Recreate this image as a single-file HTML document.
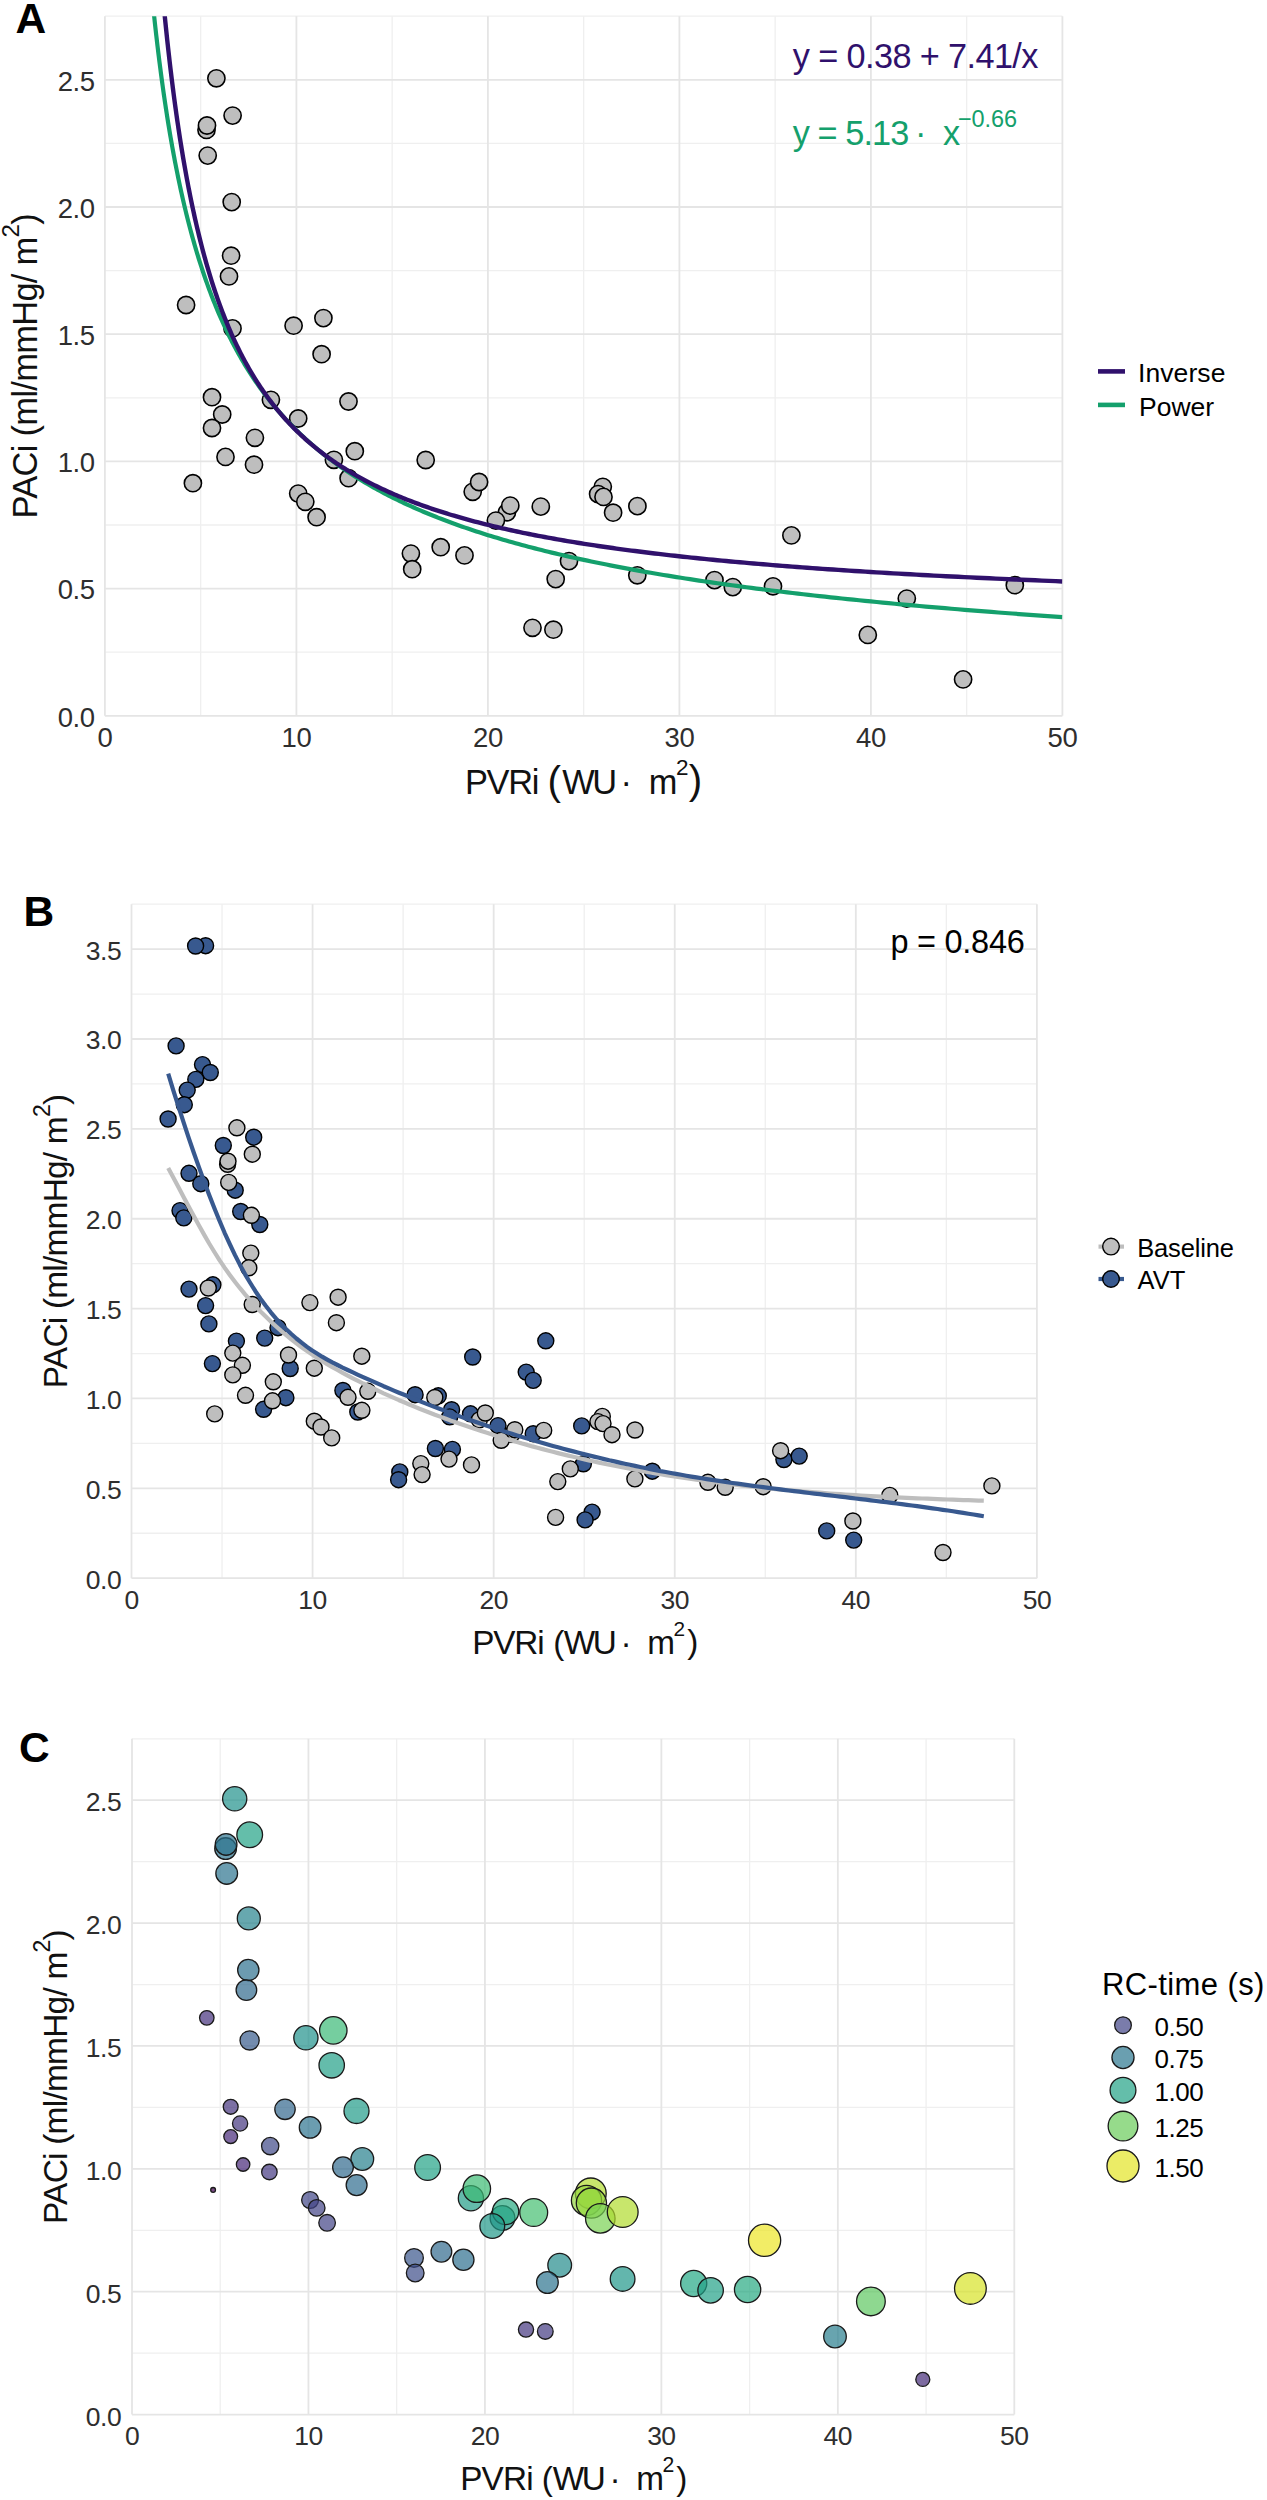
<!DOCTYPE html><html><head><meta charset="utf-8"><style>html,body{margin:0;padding:0;background:#fff;width:1267px;height:2500px;overflow:hidden;position:relative}</style></head><body><svg width="1267" height="2500" viewBox="0 0 1267 2500" style="position:absolute;left:0;top:0;font-family:'Liberation Sans', sans-serif">
<rect x="0" y="0" width="1267" height="2500" fill="#fff"/>
<line x1="200.65" y1="16.30" x2="200.65" y2="715.80" stroke="#EFEFEF" stroke-width="1.3"/>
<line x1="392.15" y1="16.30" x2="392.15" y2="715.80" stroke="#EFEFEF" stroke-width="1.3"/>
<line x1="583.65" y1="16.30" x2="583.65" y2="715.80" stroke="#EFEFEF" stroke-width="1.3"/>
<line x1="775.15" y1="16.30" x2="775.15" y2="715.80" stroke="#EFEFEF" stroke-width="1.3"/>
<line x1="966.65" y1="16.30" x2="966.65" y2="715.80" stroke="#EFEFEF" stroke-width="1.3"/>
<line x1="104.90" y1="652.20" x2="1062.40" y2="652.20" stroke="#EFEFEF" stroke-width="1.3"/>
<line x1="104.90" y1="525.00" x2="1062.40" y2="525.00" stroke="#EFEFEF" stroke-width="1.3"/>
<line x1="104.90" y1="397.80" x2="1062.40" y2="397.80" stroke="#EFEFEF" stroke-width="1.3"/>
<line x1="104.90" y1="270.60" x2="1062.40" y2="270.60" stroke="#EFEFEF" stroke-width="1.3"/>
<line x1="104.90" y1="143.40" x2="1062.40" y2="143.40" stroke="#EFEFEF" stroke-width="1.3"/>
<line x1="104.90" y1="16.20" x2="1062.40" y2="16.20" stroke="#EFEFEF" stroke-width="1.3"/>
<line x1="104.90" y1="16.30" x2="104.90" y2="715.80" stroke="#E5E5E5" stroke-width="1.8"/>
<line x1="296.40" y1="16.30" x2="296.40" y2="715.80" stroke="#E5E5E5" stroke-width="1.8"/>
<line x1="487.90" y1="16.30" x2="487.90" y2="715.80" stroke="#E5E5E5" stroke-width="1.8"/>
<line x1="679.40" y1="16.30" x2="679.40" y2="715.80" stroke="#E5E5E5" stroke-width="1.8"/>
<line x1="870.90" y1="16.30" x2="870.90" y2="715.80" stroke="#E5E5E5" stroke-width="1.8"/>
<line x1="1062.40" y1="16.30" x2="1062.40" y2="715.80" stroke="#E5E5E5" stroke-width="1.8"/>
<line x1="104.90" y1="715.80" x2="1062.40" y2="715.80" stroke="#E5E5E5" stroke-width="1.8"/>
<line x1="104.90" y1="588.60" x2="1062.40" y2="588.60" stroke="#E5E5E5" stroke-width="1.8"/>
<line x1="104.90" y1="461.40" x2="1062.40" y2="461.40" stroke="#E5E5E5" stroke-width="1.8"/>
<line x1="104.90" y1="334.20" x2="1062.40" y2="334.20" stroke="#E5E5E5" stroke-width="1.8"/>
<line x1="104.90" y1="207.00" x2="1062.40" y2="207.00" stroke="#E5E5E5" stroke-width="1.8"/>
<line x1="104.90" y1="79.80" x2="1062.40" y2="79.80" stroke="#E5E5E5" stroke-width="1.8"/>
<text x="15.50" y="32.70" font-size="42.5" font-weight="bold" fill="#000" letter-spacing="0.000">A</text>
<text x="104.90" y="747.00" font-size="27.5" text-anchor="middle" fill="#2E2E2E" font-weight="normal" letter-spacing="-0.500">0</text>
<text x="296.40" y="747.00" font-size="27.5" text-anchor="middle" fill="#2E2E2E" font-weight="normal" letter-spacing="-0.500">10</text>
<text x="487.90" y="747.00" font-size="27.5" text-anchor="middle" fill="#2E2E2E" font-weight="normal" letter-spacing="-0.500">20</text>
<text x="679.40" y="747.00" font-size="27.5" text-anchor="middle" fill="#2E2E2E" font-weight="normal" letter-spacing="-0.500">30</text>
<text x="870.90" y="747.00" font-size="27.5" text-anchor="middle" fill="#2E2E2E" font-weight="normal" letter-spacing="-0.500">40</text>
<text x="1062.40" y="747.00" font-size="27.5" text-anchor="middle" fill="#2E2E2E" font-weight="normal" letter-spacing="-0.500">50</text>
<text x="94.70" y="726.65" font-size="27.5" text-anchor="end" fill="#2E2E2E" font-weight="normal" letter-spacing="-0.400">0.0</text>
<text x="94.70" y="599.45" font-size="27.5" text-anchor="end" fill="#2E2E2E" font-weight="normal" letter-spacing="-0.400">0.5</text>
<text x="94.70" y="472.25" font-size="27.5" text-anchor="end" fill="#2E2E2E" font-weight="normal" letter-spacing="-0.400">1.0</text>
<text x="94.70" y="345.05" font-size="27.5" text-anchor="end" fill="#2E2E2E" font-weight="normal" letter-spacing="-0.400">1.5</text>
<text x="94.70" y="217.85" font-size="27.5" text-anchor="end" fill="#2E2E2E" font-weight="normal" letter-spacing="-0.400">2.0</text>
<text x="94.70" y="90.65" font-size="27.5" text-anchor="end" fill="#2E2E2E" font-weight="normal" letter-spacing="-0.400">2.5</text>
<text x="465.00" y="793.70" font-size="34.4" font-weight="normal" fill="#111" letter-spacing="-1.333">PVRi</text>
<text x="547.60" y="794.70" font-size="40.4" font-weight="normal" fill="#111" letter-spacing="0.000">(</text>
<text x="562.20" y="793.70" font-size="34.4" font-weight="normal" fill="#111" letter-spacing="-2.500">WU</text>
<text x="620.60" y="793.70" font-size="34.4" font-weight="normal" fill="#111" letter-spacing="0.000">·</text>
<text x="648.80" y="793.70" font-size="34.4" font-weight="normal" fill="#111" letter-spacing="0.000">m</text>
<text x="676.00" y="775.00" font-size="22.5" font-weight="normal" fill="#111" letter-spacing="0.000">2</text>
<text x="688.80" y="793.70" font-size="40.4" font-weight="normal" fill="#111" letter-spacing="0.000">)</text>
<text transform="translate(37.20,518.40) rotate(-90)" font-size="34.5" font-weight="normal" fill="#111" letter-spacing="-0.724">PACi (ml/mmHg/ m<tspan dy="-18" font-size="24">2</tspan><tspan dy="18">)</tspan></text>
<circle cx="216.4" cy="78.3" r="8.6" fill="#BEBEBE" stroke="#000" stroke-width="1.6"/>
<circle cx="232.6" cy="115.6" r="8.6" fill="#BEBEBE" stroke="#000" stroke-width="1.6"/>
<circle cx="206.5" cy="129.9" r="8.6" fill="#BEBEBE" stroke="#000" stroke-width="1.6"/>
<circle cx="207.0" cy="125.5" r="8.6" fill="#BEBEBE" stroke="#000" stroke-width="1.6"/>
<circle cx="207.7" cy="155.6" r="8.6" fill="#BEBEBE" stroke="#000" stroke-width="1.6"/>
<circle cx="231.7" cy="202.1" r="8.6" fill="#BEBEBE" stroke="#000" stroke-width="1.6"/>
<circle cx="231.1" cy="255.7" r="8.6" fill="#BEBEBE" stroke="#000" stroke-width="1.6"/>
<circle cx="229.0" cy="276.4" r="8.6" fill="#BEBEBE" stroke="#000" stroke-width="1.6"/>
<circle cx="186.1" cy="305.0" r="8.6" fill="#BEBEBE" stroke="#000" stroke-width="1.6"/>
<circle cx="232.5" cy="328.4" r="8.6" fill="#BEBEBE" stroke="#000" stroke-width="1.6"/>
<circle cx="293.6" cy="325.7" r="8.6" fill="#BEBEBE" stroke="#000" stroke-width="1.6"/>
<circle cx="323.4" cy="318.1" r="8.6" fill="#BEBEBE" stroke="#000" stroke-width="1.6"/>
<circle cx="321.6" cy="354.2" r="8.6" fill="#BEBEBE" stroke="#000" stroke-width="1.6"/>
<circle cx="212.0" cy="397.2" r="8.6" fill="#BEBEBE" stroke="#000" stroke-width="1.6"/>
<circle cx="270.9" cy="399.8" r="8.6" fill="#BEBEBE" stroke="#000" stroke-width="1.6"/>
<circle cx="348.5" cy="401.5" r="8.6" fill="#BEBEBE" stroke="#000" stroke-width="1.6"/>
<circle cx="222.2" cy="414.5" r="8.6" fill="#BEBEBE" stroke="#000" stroke-width="1.6"/>
<circle cx="298.2" cy="418.5" r="8.6" fill="#BEBEBE" stroke="#000" stroke-width="1.6"/>
<circle cx="212.0" cy="428.0" r="8.6" fill="#BEBEBE" stroke="#000" stroke-width="1.6"/>
<circle cx="254.9" cy="437.8" r="8.6" fill="#BEBEBE" stroke="#000" stroke-width="1.6"/>
<circle cx="225.5" cy="456.9" r="8.6" fill="#BEBEBE" stroke="#000" stroke-width="1.6"/>
<circle cx="254.0" cy="464.7" r="8.6" fill="#BEBEBE" stroke="#000" stroke-width="1.6"/>
<circle cx="354.8" cy="451.2" r="8.6" fill="#BEBEBE" stroke="#000" stroke-width="1.6"/>
<circle cx="333.9" cy="459.8" r="8.6" fill="#BEBEBE" stroke="#000" stroke-width="1.6"/>
<circle cx="348.6" cy="478.2" r="8.6" fill="#BEBEBE" stroke="#000" stroke-width="1.6"/>
<circle cx="192.9" cy="483.2" r="8.6" fill="#BEBEBE" stroke="#000" stroke-width="1.6"/>
<circle cx="298.2" cy="493.6" r="8.6" fill="#BEBEBE" stroke="#000" stroke-width="1.6"/>
<circle cx="305.3" cy="501.8" r="8.6" fill="#BEBEBE" stroke="#000" stroke-width="1.6"/>
<circle cx="316.6" cy="517.2" r="8.6" fill="#BEBEBE" stroke="#000" stroke-width="1.6"/>
<circle cx="425.7" cy="460.0" r="8.6" fill="#BEBEBE" stroke="#000" stroke-width="1.6"/>
<circle cx="472.7" cy="491.8" r="8.6" fill="#BEBEBE" stroke="#000" stroke-width="1.6"/>
<circle cx="479.1" cy="482.0" r="8.6" fill="#BEBEBE" stroke="#000" stroke-width="1.6"/>
<circle cx="507.0" cy="512.3" r="8.6" fill="#BEBEBE" stroke="#000" stroke-width="1.6"/>
<circle cx="510.3" cy="505.6" r="8.6" fill="#BEBEBE" stroke="#000" stroke-width="1.6"/>
<circle cx="495.9" cy="520.6" r="8.6" fill="#BEBEBE" stroke="#000" stroke-width="1.6"/>
<circle cx="540.8" cy="506.6" r="8.6" fill="#BEBEBE" stroke="#000" stroke-width="1.6"/>
<circle cx="410.9" cy="553.6" r="8.6" fill="#BEBEBE" stroke="#000" stroke-width="1.6"/>
<circle cx="412.2" cy="569.2" r="8.6" fill="#BEBEBE" stroke="#000" stroke-width="1.6"/>
<circle cx="440.7" cy="547.2" r="8.6" fill="#BEBEBE" stroke="#000" stroke-width="1.6"/>
<circle cx="464.5" cy="555.4" r="8.6" fill="#BEBEBE" stroke="#000" stroke-width="1.6"/>
<circle cx="569.0" cy="561.1" r="8.6" fill="#BEBEBE" stroke="#000" stroke-width="1.6"/>
<circle cx="555.7" cy="579.1" r="8.6" fill="#BEBEBE" stroke="#000" stroke-width="1.6"/>
<circle cx="532.5" cy="627.8" r="8.6" fill="#BEBEBE" stroke="#000" stroke-width="1.6"/>
<circle cx="553.4" cy="629.7" r="8.6" fill="#BEBEBE" stroke="#000" stroke-width="1.6"/>
<circle cx="602.8" cy="486.8" r="8.6" fill="#BEBEBE" stroke="#000" stroke-width="1.6"/>
<circle cx="598.1" cy="494.1" r="8.6" fill="#BEBEBE" stroke="#000" stroke-width="1.6"/>
<circle cx="603.5" cy="496.9" r="8.6" fill="#BEBEBE" stroke="#000" stroke-width="1.6"/>
<circle cx="613.1" cy="512.7" r="8.6" fill="#BEBEBE" stroke="#000" stroke-width="1.6"/>
<circle cx="637.4" cy="506.1" r="8.6" fill="#BEBEBE" stroke="#000" stroke-width="1.6"/>
<circle cx="637.3" cy="575.3" r="8.6" fill="#BEBEBE" stroke="#000" stroke-width="1.6"/>
<circle cx="714.5" cy="580.1" r="8.6" fill="#BEBEBE" stroke="#000" stroke-width="1.6"/>
<circle cx="732.8" cy="587.1" r="8.6" fill="#BEBEBE" stroke="#000" stroke-width="1.6"/>
<circle cx="773.0" cy="586.3" r="8.6" fill="#BEBEBE" stroke="#000" stroke-width="1.6"/>
<circle cx="791.4" cy="535.4" r="8.6" fill="#BEBEBE" stroke="#000" stroke-width="1.6"/>
<circle cx="867.8" cy="634.9" r="8.6" fill="#BEBEBE" stroke="#000" stroke-width="1.6"/>
<circle cx="906.8" cy="598.6" r="8.6" fill="#BEBEBE" stroke="#000" stroke-width="1.6"/>
<circle cx="1014.8" cy="585.2" r="8.6" fill="#BEBEBE" stroke="#000" stroke-width="1.6"/>
<circle cx="963.1" cy="679.4" r="8.6" fill="#BEBEBE" stroke="#000" stroke-width="1.6"/>
<clipPath id="clipA"><rect x="104.9" y="16.3" width="957.5000000000001" height="699.5"/></clipPath>
<g clip-path="url(#clipA)">
<polyline points="148.94,-37.37 149.29,-33.56 149.63,-29.76 149.97,-25.98 150.32,-22.22 150.67,-18.48 151.03,-14.76 151.38,-11.06 151.74,-7.37 152.10,-3.71 152.47,-0.06 152.84,3.57 153.21,7.17 153.58,10.77 153.96,14.34 154.34,17.89 154.72,21.43 155.10,24.95 155.49,28.45 155.88,31.93 156.28,35.40 156.67,38.85 157.07,42.28 157.48,45.69 157.88,49.09 158.29,52.47 158.70,55.83 159.12,59.17 159.54,62.50 159.96,65.81 160.39,69.10 160.82,72.38 161.25,75.64 161.68,78.89 162.12,82.11 162.56,85.32 163.01,88.52 163.46,91.70 163.91,94.86 164.37,98.01 164.83,101.14 165.29,104.25 165.76,107.35 166.23,110.44 166.70,113.50 167.18,116.56 167.66,119.59 168.14,122.61 168.63,125.62 169.13,128.61 169.62,131.59 170.12,134.55 170.63,137.49 171.13,140.42 171.65,143.34 172.16,146.24 172.68,149.13 173.21,152.00 173.73,154.86 174.26,157.70 174.80,160.53 175.34,163.34 175.89,166.14 176.43,168.93 176.99,171.70 177.54,174.45 178.11,177.20 178.67,179.93 179.24,182.64 179.82,185.34 180.39,188.03 180.98,190.71 181.57,193.37 182.16,196.02 182.75,198.65 183.36,201.27 183.96,203.88 184.57,206.47 185.19,209.05 185.81,211.62 186.44,214.18 187.07,216.72 187.70,219.25 188.34,221.76 188.98,224.27 189.63,226.76 190.29,229.24 190.95,231.70 191.61,234.16 192.28,236.60 192.96,239.02 193.64,241.44 194.33,243.84 195.02,246.24 195.71,248.62 196.41,250.98 197.12,253.34 197.83,255.68 198.55,258.01 199.28,260.33 200.01,262.64 200.74,264.94 201.48,267.22 202.23,269.50 202.98,271.76 203.74,274.01 204.50,276.25 205.27,278.48 206.05,280.69 206.83,282.90 207.62,285.09 208.41,287.27 209.21,289.44 210.02,291.61 210.83,293.75 211.65,295.89 212.47,298.02 213.30,300.14 214.14,302.25 214.98,304.34 215.84,306.43 216.69,308.50 217.56,310.56 218.43,312.62 219.30,314.66 220.19,316.69 221.08,318.72 221.98,320.73 222.88,322.73 223.79,324.72 224.71,326.70 225.64,328.68 226.57,330.64 227.51,332.59 228.46,334.53 229.41,336.46 230.38,338.39 231.35,340.30 232.32,342.20 233.31,344.10 234.30,345.98 235.30,347.85 236.31,349.72 237.32,351.57 238.35,353.42 239.38,355.26 240.42,357.08 241.46,358.90 242.52,360.71 243.58,362.51 244.65,364.30 245.73,366.08 246.82,367.85 247.92,369.62 249.02,371.37 250.14,373.12 251.26,374.85 252.39,376.58 253.53,378.30 254.68,380.01 255.84,381.71 257.00,383.40 258.18,385.09 259.36,386.76 260.56,388.43 261.76,390.09 262.97,391.74 264.19,393.38 265.42,395.02 266.66,396.64 267.91,398.26 269.17,399.87 270.44,401.47 271.72,403.06 273.01,404.65 274.31,406.23 275.62,407.79 276.94,409.36 278.27,410.91 279.61,412.45 280.96,413.99 282.32,415.52 283.69,417.04 285.07,418.56 286.46,420.06 287.87,421.56 289.28,423.05 290.70,424.54 292.14,426.01 293.59,427.48 295.05,428.94 296.52,430.39 298.00,431.84 299.49,433.28 300.99,434.71 302.51,436.14 304.03,437.55 305.57,438.96 307.12,440.37 308.69,441.76 310.26,443.15 311.85,444.53 313.45,445.91 315.06,447.27 316.68,448.64 318.32,449.99 319.97,451.34 321.63,452.68 323.30,454.01 324.99,455.34 326.69,456.66 328.41,457.97 330.13,459.28 331.88,460.58 333.63,461.87 335.40,463.16 337.18,464.44 338.97,465.71 340.78,466.98 342.60,468.24 344.44,469.49 346.29,470.74 348.16,471.98 350.04,473.22 351.93,474.45 353.84,475.67 355.76,476.89 357.70,478.10 359.66,479.30 361.62,480.50 363.61,481.69 365.61,482.88 367.62,484.06 369.65,485.24 371.70,486.40 373.76,487.57 375.84,488.72 377.93,489.87 380.04,491.02 382.17,492.16 384.31,493.29 386.47,494.42 388.64,495.54 390.84,496.66 393.05,497.77 395.27,498.87 397.52,499.97 399.78,501.07 402.06,502.15 404.35,503.24 406.67,504.31 409.00,505.39 411.35,506.45 413.72,507.51 416.10,508.57 418.51,509.62 420.93,510.66 423.37,511.70 425.84,512.74 428.32,513.77 430.81,514.79 433.33,515.81 435.87,516.82 438.43,517.83 441.01,518.83 443.60,519.83 446.22,520.83 448.86,521.81 451.52,522.80 454.19,523.77 456.89,524.75 459.61,525.72 462.35,526.68 465.12,527.64 467.90,528.59 470.71,529.54 473.53,530.48 476.38,531.42 479.25,532.36 482.14,533.29 485.06,534.21 488.00,535.13 490.96,536.05 493.94,536.96 496.95,537.86 499.98,538.77 503.03,539.66 506.11,540.56 509.21,541.44 512.33,542.33 515.48,543.21 518.65,544.08 521.85,544.95 525.07,545.82 528.32,546.68 531.59,547.54 534.89,548.39 538.21,549.24 541.56,550.08 544.93,550.92 548.33,551.76 551.76,552.59 555.21,553.41 558.69,554.24 562.20,555.06 565.73,555.87 569.29,556.68 572.88,557.49 576.50,558.29 580.14,559.09 583.82,559.88 587.52,560.67 591.25,561.46 595.00,562.24 598.79,563.02 602.61,563.79 606.45,564.56 610.33,565.33 614.24,566.09 618.17,566.85 622.14,567.61 626.13,568.36 630.16,569.10 634.22,569.85 638.31,570.59 642.43,571.32 646.59,572.06 650.77,572.78 654.99,573.51 659.24,574.23 663.53,574.95 667.84,575.66 672.19,576.37 676.58,577.08 680.99,577.78 685.45,578.48 689.93,579.18 694.45,579.87 699.01,580.56 703.60,581.24 708.23,581.92 712.89,582.60 717.59,583.28 722.32,583.95 727.09,584.62 731.90,585.28 736.75,585.94 741.63,586.60 746.55,587.26 751.51,587.91 756.50,588.56 761.54,589.20 766.61,589.84 771.73,590.48 776.88,591.12 782.07,591.75 787.30,592.38 792.58,593.00 797.89,593.62 803.25,594.24 808.64,594.86 814.08,595.47 819.56,596.08 825.08,596.69 830.65,597.29 836.26,597.89 841.91,598.49 847.60,599.08 853.34,599.68 859.13,600.26 864.96,600.85 870.83,601.43 876.75,602.01 882.71,602.59 888.72,603.16 894.78,603.73 900.88,604.30 907.03,604.87 913.23,605.43 919.48,605.99 925.77,606.54 932.12,607.10 938.51,607.65 944.95,608.20 951.44,608.74 957.98,609.28 964.58,609.82 971.22,610.36 977.91,610.90 984.66,611.43 991.46,611.96 998.31,612.48 1005.21,613.01 1012.17,613.53 1019.18,614.05 1026.25,614.56 1033.37,615.07 1040.54,615.58 1047.77,616.09 1055.06,616.60 1062.40,617.10" fill="none" stroke="#14A06C" stroke-width="4.2"/>
<polyline points="158.52,-54.12 158.91,-49.29 159.30,-44.49 159.69,-39.73 160.09,-34.99 160.49,-30.30 160.89,-25.63 161.29,-21.01 161.70,-16.41 162.11,-11.85 162.53,-7.32 162.94,-2.82 163.36,1.65 163.79,6.08 164.21,10.48 164.64,14.85 165.07,19.19 165.51,23.50 165.95,27.78 166.39,32.02 166.83,36.24 167.28,40.42 167.73,44.58 168.19,48.70 168.64,52.80 169.10,56.87 169.57,60.90 170.04,64.91 170.51,68.89 170.98,72.84 171.46,76.76 171.94,80.66 172.43,84.52 172.91,88.36 173.41,92.17 173.90,95.96 174.40,99.71 174.90,103.44 175.41,107.15 175.92,110.82 176.43,114.47 176.95,118.09 177.47,121.69 178.00,125.26 178.53,128.81 179.06,132.33 179.59,135.83 180.13,139.30 180.68,142.74 181.23,146.16 181.78,149.56 182.33,152.93 182.89,156.28 183.46,159.60 184.03,162.90 184.60,166.18 185.18,169.43 185.76,172.66 186.34,175.86 186.93,179.04 187.52,182.20 188.12,185.34 188.72,188.46 189.33,191.55 189.94,194.62 190.55,197.67 191.17,200.69 191.80,203.70 192.43,206.68 193.06,209.64 193.70,212.58 194.34,215.50 194.99,218.40 195.64,221.28 196.29,224.13 196.95,226.97 197.62,229.78 198.29,232.58 198.97,235.36 199.65,238.11 200.33,240.85 201.02,243.56 201.72,246.26 202.42,248.94 203.12,251.59 203.83,254.23 204.55,256.85 205.27,259.45 205.99,262.04 206.73,264.60 207.46,267.15 208.20,269.67 208.95,272.18 209.70,274.67 210.46,277.15 211.22,279.60 211.99,282.04 212.77,284.46 213.55,286.86 214.33,289.25 215.12,291.62 215.92,293.97 216.72,296.30 217.53,298.62 218.35,300.92 219.17,303.21 220.00,305.48 220.83,307.73 221.67,309.96 222.51,312.18 223.36,314.39 224.22,316.58 225.08,318.75 225.95,320.91 226.83,323.05 227.71,325.17 228.60,327.28 229.49,329.38 230.39,331.46 231.30,333.52 232.21,335.58 233.13,337.61 234.06,339.63 234.99,341.64 235.94,343.63 236.88,345.61 237.84,347.57 238.80,349.52 239.77,351.46 240.74,353.38 241.73,355.29 242.71,357.18 243.71,359.06 244.72,360.93 245.73,362.79 246.74,364.63 247.77,366.45 248.80,368.27 249.84,370.07 250.89,371.86 251.95,373.63 253.01,375.40 254.08,377.15 255.16,378.88 256.25,380.61 257.34,382.32 258.45,384.02 259.56,385.71 260.67,387.38 261.80,389.05 262.94,390.70 264.08,392.34 265.23,393.97 266.39,395.59 267.56,397.19 268.73,398.78 269.92,400.37 271.11,401.94 272.31,403.50 273.53,405.05 274.74,406.58 275.97,408.11 277.21,409.62 278.46,411.13 279.71,412.62 280.98,414.10 282.25,415.58 283.53,417.04 284.82,418.49 286.12,419.93 287.44,421.36 288.76,422.78 290.09,424.19 291.42,425.59 292.77,426.98 294.13,428.36 295.50,429.73 296.88,431.09 298.27,432.44 299.67,433.78 301.07,435.11 302.49,436.43 303.92,437.74 305.36,439.04 306.81,440.34 308.27,441.62 309.74,442.90 311.22,444.16 312.72,445.42 314.22,446.66 315.73,447.90 317.26,449.13 318.79,450.35 320.34,451.57 321.90,452.77 323.47,453.96 325.05,455.15 326.64,456.33 328.24,457.49 329.86,458.66 331.49,459.81 333.12,460.95 334.78,462.09 336.44,463.21 338.11,464.33 339.80,465.45 341.50,466.55 343.21,467.64 344.93,468.73 346.67,469.81 348.42,470.88 350.18,471.95 351.95,473.01 353.74,474.05 355.54,475.10 357.35,476.13 359.18,477.16 361.01,478.18 362.87,479.19 364.73,480.19 366.61,481.19 368.50,482.18 370.41,483.16 372.33,484.14 374.27,485.11 376.21,486.07 378.18,487.03 380.15,487.98 382.14,488.92 384.15,489.85 386.17,490.78 388.20,491.70 390.25,492.62 392.31,493.53 394.39,494.43 396.49,495.32 398.59,496.21 400.72,497.09 402.86,497.97 405.01,498.84 407.18,499.70 409.37,500.56 411.57,501.41 413.79,502.26 416.02,503.10 418.27,503.93 420.54,504.76 422.82,505.58 425.12,506.39 427.44,507.20 429.77,508.01 432.12,508.81 434.49,509.60 436.87,510.38 439.27,511.16 441.69,511.94 444.12,512.71 446.58,513.47 449.05,514.23 451.54,514.99 454.04,515.73 456.57,516.48 459.11,517.21 461.67,517.94 464.25,518.67 466.85,519.39 469.47,520.11 472.11,520.82 474.76,521.52 477.44,522.23 480.13,522.92 482.85,523.61 485.58,524.30 488.33,524.98 491.11,525.66 493.90,526.33 496.71,526.99 499.54,527.65 502.40,528.31 505.27,528.96 508.17,529.61 511.09,530.25 514.02,530.89 516.98,531.52 519.96,532.15 522.96,532.78 525.99,533.40 529.03,534.01 532.10,534.62 535.19,535.23 538.30,535.83 541.44,536.43 544.59,537.03 547.77,537.62 550.98,538.20 554.20,538.78 557.45,539.36 560.72,539.93 564.02,540.50 567.34,541.06 570.69,541.63 574.05,542.18 577.45,542.73 580.86,543.28 584.31,543.83 587.77,544.37 591.27,544.90 594.78,545.44 598.33,545.97 601.89,546.49 605.49,547.01 609.11,547.53 612.76,548.05 616.43,548.56 620.13,549.06 623.85,549.57 627.61,550.06 631.39,550.56 635.19,551.05 639.03,551.54 642.89,552.03 646.78,552.51 650.70,552.99 654.65,553.46 658.63,553.93 662.63,554.40 666.66,554.87 670.73,555.33 674.82,555.79 678.94,556.24 683.09,556.69 687.27,557.14 691.48,557.59 695.73,558.03 700.00,558.47 704.30,558.90 708.64,559.33 713.00,559.76 717.40,560.19 721.83,560.61 726.29,561.03 730.79,561.45 735.31,561.86 739.87,562.28 744.47,562.68 749.09,563.09 753.75,563.49 758.44,563.89 763.17,564.29 767.93,564.68 772.72,565.07 777.55,565.46 782.42,565.85 787.32,566.23 792.25,566.61 797.22,566.99 802.23,567.36 807.27,567.73 812.35,568.10 817.47,568.47 822.62,568.83 827.81,569.19 833.04,569.55 838.31,569.91 843.61,570.26 848.96,570.61 854.34,570.96 859.76,571.30 865.22,571.65 870.71,571.99 876.25,572.33 881.83,572.66 887.45,573.00 893.11,573.33 898.81,573.66 904.55,573.98 910.33,574.31 916.16,574.63 922.03,574.95 927.94,575.27 933.89,575.58 939.88,575.89 945.92,576.20 952.00,576.51 958.13,576.82 964.30,577.12 970.52,577.42 976.78,577.72 983.08,578.02 989.43,578.32 995.83,578.61 1002.27,578.90 1008.76,579.19 1015.30,579.48 1021.88,579.76 1028.52,580.04 1035.19,580.32 1041.92,580.60 1048.70,580.88 1055.53,581.15 1062.40,581.43" fill="none" stroke="#30116C" stroke-width="4.4"/>
</g>
<text x="792.80" y="68.40" font-size="34.3" font-weight="normal" fill="#30116C" letter-spacing="-0.619">y = 0.38 + 7.41/x</text>
<text x="792.80" y="144.60" font-size="34.3" font-weight="normal" fill="#14A06C" letter-spacing="-0.929">y = 5.13</text>
<text x="915.00" y="144.60" font-size="34.3" font-weight="normal" fill="#14A06C" letter-spacing="0.000">·</text>
<text x="943.00" y="144.60" font-size="34.3" font-weight="normal" fill="#14A06C" letter-spacing="0.000">x</text>
<text x="958.00" y="127.00" font-size="23.5" font-weight="normal" fill="#14A06C" letter-spacing="-0.125">−0.66</text>
<line x1="1098" y1="371.4" x2="1125" y2="371.4" stroke="#30116C" stroke-width="4.6"/>
<line x1="1098" y1="404.9" x2="1125" y2="404.9" stroke="#14A06C" stroke-width="4.6"/>
<text x="1138.00" y="382.20" font-size="26.5" font-weight="normal" fill="#000" letter-spacing="0.083">Inverse</text>
<text x="1139.00" y="415.70" font-size="26.5" font-weight="normal" fill="#000" letter-spacing="0.000">Power</text>
<line x1="222.04" y1="904.20" x2="222.04" y2="1578.20" stroke="#EFEFEF" stroke-width="1.3"/>
<line x1="403.12" y1="904.20" x2="403.12" y2="1578.20" stroke="#EFEFEF" stroke-width="1.3"/>
<line x1="584.20" y1="904.20" x2="584.20" y2="1578.20" stroke="#EFEFEF" stroke-width="1.3"/>
<line x1="765.28" y1="904.20" x2="765.28" y2="1578.20" stroke="#EFEFEF" stroke-width="1.3"/>
<line x1="946.36" y1="904.20" x2="946.36" y2="1578.20" stroke="#EFEFEF" stroke-width="1.3"/>
<line x1="131.50" y1="1533.27" x2="1036.90" y2="1533.27" stroke="#EFEFEF" stroke-width="1.3"/>
<line x1="131.50" y1="1443.40" x2="1036.90" y2="1443.40" stroke="#EFEFEF" stroke-width="1.3"/>
<line x1="131.50" y1="1353.54" x2="1036.90" y2="1353.54" stroke="#EFEFEF" stroke-width="1.3"/>
<line x1="131.50" y1="1263.67" x2="1036.90" y2="1263.67" stroke="#EFEFEF" stroke-width="1.3"/>
<line x1="131.50" y1="1173.81" x2="1036.90" y2="1173.81" stroke="#EFEFEF" stroke-width="1.3"/>
<line x1="131.50" y1="1083.94" x2="1036.90" y2="1083.94" stroke="#EFEFEF" stroke-width="1.3"/>
<line x1="131.50" y1="994.08" x2="1036.90" y2="994.08" stroke="#EFEFEF" stroke-width="1.3"/>
<line x1="131.50" y1="904.21" x2="1036.90" y2="904.21" stroke="#EFEFEF" stroke-width="1.3"/>
<line x1="131.50" y1="904.20" x2="131.50" y2="1578.20" stroke="#E5E5E5" stroke-width="1.8"/>
<line x1="312.58" y1="904.20" x2="312.58" y2="1578.20" stroke="#E5E5E5" stroke-width="1.8"/>
<line x1="493.66" y1="904.20" x2="493.66" y2="1578.20" stroke="#E5E5E5" stroke-width="1.8"/>
<line x1="674.74" y1="904.20" x2="674.74" y2="1578.20" stroke="#E5E5E5" stroke-width="1.8"/>
<line x1="855.82" y1="904.20" x2="855.82" y2="1578.20" stroke="#E5E5E5" stroke-width="1.8"/>
<line x1="1036.90" y1="904.20" x2="1036.90" y2="1578.20" stroke="#E5E5E5" stroke-width="1.8"/>
<line x1="131.50" y1="1578.20" x2="1036.90" y2="1578.20" stroke="#E5E5E5" stroke-width="1.8"/>
<line x1="131.50" y1="1488.34" x2="1036.90" y2="1488.34" stroke="#E5E5E5" stroke-width="1.8"/>
<line x1="131.50" y1="1398.47" x2="1036.90" y2="1398.47" stroke="#E5E5E5" stroke-width="1.8"/>
<line x1="131.50" y1="1308.61" x2="1036.90" y2="1308.61" stroke="#E5E5E5" stroke-width="1.8"/>
<line x1="131.50" y1="1218.74" x2="1036.90" y2="1218.74" stroke="#E5E5E5" stroke-width="1.8"/>
<line x1="131.50" y1="1128.88" x2="1036.90" y2="1128.88" stroke="#E5E5E5" stroke-width="1.8"/>
<line x1="131.50" y1="1039.01" x2="1036.90" y2="1039.01" stroke="#E5E5E5" stroke-width="1.8"/>
<line x1="131.50" y1="949.15" x2="1036.90" y2="949.15" stroke="#E5E5E5" stroke-width="1.8"/>
<text x="23.50" y="925.60" font-size="42.5" font-weight="bold" fill="#000" letter-spacing="0.000">B</text>
<text x="131.50" y="1608.70" font-size="26.5" text-anchor="middle" fill="#2E2E2E" font-weight="normal" letter-spacing="-0.500">0</text>
<text x="312.58" y="1608.70" font-size="26.5" text-anchor="middle" fill="#2E2E2E" font-weight="normal" letter-spacing="-0.500">10</text>
<text x="493.66" y="1608.70" font-size="26.5" text-anchor="middle" fill="#2E2E2E" font-weight="normal" letter-spacing="-0.500">20</text>
<text x="674.74" y="1608.70" font-size="26.5" text-anchor="middle" fill="#2E2E2E" font-weight="normal" letter-spacing="-0.500">30</text>
<text x="855.82" y="1608.70" font-size="26.5" text-anchor="middle" fill="#2E2E2E" font-weight="normal" letter-spacing="-0.500">40</text>
<text x="1036.90" y="1608.70" font-size="26.5" text-anchor="middle" fill="#2E2E2E" font-weight="normal" letter-spacing="-0.500">50</text>
<text x="121.40" y="1588.60" font-size="26.5" text-anchor="end" fill="#2E2E2E" font-weight="normal" letter-spacing="-0.400">0.0</text>
<text x="121.40" y="1498.74" font-size="26.5" text-anchor="end" fill="#2E2E2E" font-weight="normal" letter-spacing="-0.400">0.5</text>
<text x="121.40" y="1408.87" font-size="26.5" text-anchor="end" fill="#2E2E2E" font-weight="normal" letter-spacing="-0.400">1.0</text>
<text x="121.40" y="1319.01" font-size="26.5" text-anchor="end" fill="#2E2E2E" font-weight="normal" letter-spacing="-0.400">1.5</text>
<text x="121.40" y="1229.14" font-size="26.5" text-anchor="end" fill="#2E2E2E" font-weight="normal" letter-spacing="-0.400">2.0</text>
<text x="121.40" y="1139.28" font-size="26.5" text-anchor="end" fill="#2E2E2E" font-weight="normal" letter-spacing="-0.400">2.5</text>
<text x="121.40" y="1049.41" font-size="26.5" text-anchor="end" fill="#2E2E2E" font-weight="normal" letter-spacing="-0.400">3.0</text>
<text x="121.40" y="959.55" font-size="26.5" text-anchor="end" fill="#2E2E2E" font-weight="normal" letter-spacing="-0.400">3.5</text>
<text x="472.20" y="1653.70" font-size="33.3" font-weight="normal" fill="#111" letter-spacing="-1.167">PVRi</text>
<text x="553.20" y="1653.70" font-size="33.3" font-weight="normal" fill="#111" letter-spacing="0.000">(</text>
<text x="563.80" y="1653.70" font-size="33.3" font-weight="normal" fill="#111" letter-spacing="-2.500">WU</text>
<text x="620.60" y="1653.70" font-size="33.3" font-weight="normal" fill="#111" letter-spacing="0.000">·</text>
<text x="647.20" y="1653.70" font-size="33.3" font-weight="normal" fill="#111" letter-spacing="0.000">m</text>
<text x="673.40" y="1636.00" font-size="20.8" font-weight="normal" fill="#111" letter-spacing="0.000">2</text>
<text x="687.20" y="1653.20" font-size="33.3" font-weight="normal" fill="#111" letter-spacing="0.000">)</text>
<text transform="translate(66.90,1388.20) rotate(-90)" font-size="33.5" font-weight="normal" fill="#111" letter-spacing="-0.812">PACi (ml/mmHg/ m<tspan dy="-17" font-size="23">2</tspan><tspan dy="17">)</tspan></text>
<circle cx="205.6" cy="945.7" r="8.0" fill="#38598F" stroke="#000" stroke-width="1.4"/>
<circle cx="195.6" cy="946.0" r="8.0" fill="#38598F" stroke="#000" stroke-width="1.4"/>
<circle cx="176.1" cy="1045.9" r="8.0" fill="#38598F" stroke="#000" stroke-width="1.4"/>
<circle cx="202.5" cy="1064.6" r="8.0" fill="#38598F" stroke="#000" stroke-width="1.4"/>
<circle cx="210.3" cy="1072.5" r="8.0" fill="#38598F" stroke="#000" stroke-width="1.4"/>
<circle cx="195.8" cy="1079.4" r="8.0" fill="#38598F" stroke="#000" stroke-width="1.4"/>
<circle cx="187.2" cy="1090.1" r="8.0" fill="#38598F" stroke="#000" stroke-width="1.4"/>
<circle cx="184.3" cy="1104.7" r="8.0" fill="#38598F" stroke="#000" stroke-width="1.4"/>
<circle cx="168.1" cy="1119.0" r="8.0" fill="#38598F" stroke="#000" stroke-width="1.4"/>
<circle cx="223.3" cy="1145.5" r="8.0" fill="#38598F" stroke="#000" stroke-width="1.4"/>
<circle cx="253.7" cy="1137.2" r="8.0" fill="#38598F" stroke="#000" stroke-width="1.4"/>
<circle cx="189.0" cy="1173.3" r="8.0" fill="#38598F" stroke="#000" stroke-width="1.4"/>
<circle cx="200.8" cy="1183.7" r="8.0" fill="#38598F" stroke="#000" stroke-width="1.4"/>
<circle cx="235.2" cy="1190.2" r="8.0" fill="#38598F" stroke="#000" stroke-width="1.4"/>
<circle cx="180.0" cy="1210.6" r="8.0" fill="#38598F" stroke="#000" stroke-width="1.4"/>
<circle cx="183.8" cy="1217.9" r="8.0" fill="#38598F" stroke="#000" stroke-width="1.4"/>
<circle cx="240.7" cy="1211.5" r="8.0" fill="#38598F" stroke="#000" stroke-width="1.4"/>
<circle cx="259.8" cy="1224.5" r="8.0" fill="#38598F" stroke="#000" stroke-width="1.4"/>
<circle cx="189.0" cy="1289.1" r="8.0" fill="#38598F" stroke="#000" stroke-width="1.4"/>
<circle cx="212.9" cy="1284.8" r="8.0" fill="#38598F" stroke="#000" stroke-width="1.4"/>
<circle cx="205.6" cy="1305.6" r="8.0" fill="#38598F" stroke="#000" stroke-width="1.4"/>
<circle cx="208.9" cy="1323.9" r="8.0" fill="#38598F" stroke="#000" stroke-width="1.4"/>
<circle cx="236.4" cy="1341.1" r="8.0" fill="#38598F" stroke="#000" stroke-width="1.4"/>
<circle cx="264.7" cy="1338.1" r="8.0" fill="#38598F" stroke="#000" stroke-width="1.4"/>
<circle cx="278.0" cy="1327.7" r="8.0" fill="#38598F" stroke="#000" stroke-width="1.4"/>
<circle cx="212.4" cy="1363.6" r="8.0" fill="#38598F" stroke="#000" stroke-width="1.4"/>
<circle cx="290.2" cy="1368.5" r="8.0" fill="#38598F" stroke="#000" stroke-width="1.4"/>
<circle cx="285.9" cy="1397.7" r="8.0" fill="#38598F" stroke="#000" stroke-width="1.4"/>
<circle cx="263.6" cy="1409.3" r="8.0" fill="#38598F" stroke="#000" stroke-width="1.4"/>
<circle cx="342.9" cy="1390.5" r="8.0" fill="#38598F" stroke="#000" stroke-width="1.4"/>
<circle cx="357.8" cy="1412.0" r="8.0" fill="#38598F" stroke="#000" stroke-width="1.4"/>
<circle cx="415.1" cy="1394.7" r="8.0" fill="#38598F" stroke="#000" stroke-width="1.4"/>
<circle cx="438.3" cy="1395.8" r="8.0" fill="#38598F" stroke="#000" stroke-width="1.4"/>
<circle cx="451.6" cy="1409.7" r="8.0" fill="#38598F" stroke="#000" stroke-width="1.4"/>
<circle cx="449.7" cy="1416.9" r="8.0" fill="#38598F" stroke="#000" stroke-width="1.4"/>
<circle cx="470.5" cy="1413.8" r="8.0" fill="#38598F" stroke="#000" stroke-width="1.4"/>
<circle cx="498.0" cy="1425.6" r="8.0" fill="#38598F" stroke="#000" stroke-width="1.4"/>
<circle cx="533.2" cy="1433.7" r="8.0" fill="#38598F" stroke="#000" stroke-width="1.4"/>
<circle cx="435.4" cy="1448.5" r="8.0" fill="#38598F" stroke="#000" stroke-width="1.4"/>
<circle cx="452.4" cy="1449.4" r="8.0" fill="#38598F" stroke="#000" stroke-width="1.4"/>
<circle cx="399.8" cy="1471.9" r="8.0" fill="#38598F" stroke="#000" stroke-width="1.4"/>
<circle cx="398.6" cy="1479.7" r="8.0" fill="#38598F" stroke="#000" stroke-width="1.4"/>
<circle cx="472.7" cy="1357.0" r="8.0" fill="#38598F" stroke="#000" stroke-width="1.4"/>
<circle cx="545.8" cy="1340.8" r="8.0" fill="#38598F" stroke="#000" stroke-width="1.4"/>
<circle cx="526.2" cy="1372.1" r="8.0" fill="#38598F" stroke="#000" stroke-width="1.4"/>
<circle cx="533.2" cy="1380.4" r="8.0" fill="#38598F" stroke="#000" stroke-width="1.4"/>
<circle cx="581.7" cy="1425.9" r="8.0" fill="#38598F" stroke="#000" stroke-width="1.4"/>
<circle cx="583.4" cy="1463.8" r="8.0" fill="#38598F" stroke="#000" stroke-width="1.4"/>
<circle cx="652.3" cy="1471.2" r="8.0" fill="#38598F" stroke="#000" stroke-width="1.4"/>
<circle cx="592.1" cy="1512.1" r="8.0" fill="#38598F" stroke="#000" stroke-width="1.4"/>
<circle cx="585.1" cy="1519.9" r="8.0" fill="#38598F" stroke="#000" stroke-width="1.4"/>
<circle cx="783.9" cy="1459.5" r="8.0" fill="#38598F" stroke="#000" stroke-width="1.4"/>
<circle cx="799.2" cy="1456.1" r="8.0" fill="#38598F" stroke="#000" stroke-width="1.4"/>
<circle cx="826.7" cy="1530.9" r="8.0" fill="#38598F" stroke="#000" stroke-width="1.4"/>
<circle cx="853.7" cy="1540.1" r="8.0" fill="#38598F" stroke="#000" stroke-width="1.4"/>
<circle cx="236.9" cy="1127.8" r="8.0" fill="#BEBEBE" stroke="#000" stroke-width="1.4"/>
<circle cx="252.3" cy="1154.2" r="8.0" fill="#BEBEBE" stroke="#000" stroke-width="1.4"/>
<circle cx="227.6" cy="1164.3" r="8.0" fill="#BEBEBE" stroke="#000" stroke-width="1.4"/>
<circle cx="228.0" cy="1161.2" r="8.0" fill="#BEBEBE" stroke="#000" stroke-width="1.4"/>
<circle cx="228.7" cy="1182.4" r="8.0" fill="#BEBEBE" stroke="#000" stroke-width="1.4"/>
<circle cx="251.4" cy="1215.3" r="8.0" fill="#BEBEBE" stroke="#000" stroke-width="1.4"/>
<circle cx="250.8" cy="1253.1" r="8.0" fill="#BEBEBE" stroke="#000" stroke-width="1.4"/>
<circle cx="248.8" cy="1267.8" r="8.0" fill="#BEBEBE" stroke="#000" stroke-width="1.4"/>
<circle cx="208.3" cy="1288.0" r="8.0" fill="#BEBEBE" stroke="#000" stroke-width="1.4"/>
<circle cx="252.2" cy="1304.5" r="8.0" fill="#BEBEBE" stroke="#000" stroke-width="1.4"/>
<circle cx="309.9" cy="1302.6" r="8.0" fill="#BEBEBE" stroke="#000" stroke-width="1.4"/>
<circle cx="338.1" cy="1297.2" r="8.0" fill="#BEBEBE" stroke="#000" stroke-width="1.4"/>
<circle cx="336.4" cy="1322.7" r="8.0" fill="#BEBEBE" stroke="#000" stroke-width="1.4"/>
<circle cx="232.8" cy="1353.1" r="8.0" fill="#BEBEBE" stroke="#000" stroke-width="1.4"/>
<circle cx="288.5" cy="1355.0" r="8.0" fill="#BEBEBE" stroke="#000" stroke-width="1.4"/>
<circle cx="361.8" cy="1356.2" r="8.0" fill="#BEBEBE" stroke="#000" stroke-width="1.4"/>
<circle cx="242.4" cy="1365.3" r="8.0" fill="#BEBEBE" stroke="#000" stroke-width="1.4"/>
<circle cx="314.3" cy="1368.2" r="8.0" fill="#BEBEBE" stroke="#000" stroke-width="1.4"/>
<circle cx="232.8" cy="1374.9" r="8.0" fill="#BEBEBE" stroke="#000" stroke-width="1.4"/>
<circle cx="273.3" cy="1381.8" r="8.0" fill="#BEBEBE" stroke="#000" stroke-width="1.4"/>
<circle cx="245.5" cy="1395.3" r="8.0" fill="#BEBEBE" stroke="#000" stroke-width="1.4"/>
<circle cx="272.5" cy="1400.8" r="8.0" fill="#BEBEBE" stroke="#000" stroke-width="1.4"/>
<circle cx="367.8" cy="1391.3" r="8.0" fill="#BEBEBE" stroke="#000" stroke-width="1.4"/>
<circle cx="348.0" cy="1397.3" r="8.0" fill="#BEBEBE" stroke="#000" stroke-width="1.4"/>
<circle cx="361.9" cy="1410.3" r="8.0" fill="#BEBEBE" stroke="#000" stroke-width="1.4"/>
<circle cx="214.7" cy="1413.9" r="8.0" fill="#BEBEBE" stroke="#000" stroke-width="1.4"/>
<circle cx="314.3" cy="1421.2" r="8.0" fill="#BEBEBE" stroke="#000" stroke-width="1.4"/>
<circle cx="321.0" cy="1427.0" r="8.0" fill="#BEBEBE" stroke="#000" stroke-width="1.4"/>
<circle cx="331.7" cy="1437.9" r="8.0" fill="#BEBEBE" stroke="#000" stroke-width="1.4"/>
<circle cx="434.8" cy="1397.5" r="8.0" fill="#BEBEBE" stroke="#000" stroke-width="1.4"/>
<circle cx="479.3" cy="1419.9" r="8.0" fill="#BEBEBE" stroke="#000" stroke-width="1.4"/>
<circle cx="485.3" cy="1413.0" r="8.0" fill="#BEBEBE" stroke="#000" stroke-width="1.4"/>
<circle cx="511.7" cy="1434.4" r="8.0" fill="#BEBEBE" stroke="#000" stroke-width="1.4"/>
<circle cx="514.8" cy="1429.7" r="8.0" fill="#BEBEBE" stroke="#000" stroke-width="1.4"/>
<circle cx="501.2" cy="1440.3" r="8.0" fill="#BEBEBE" stroke="#000" stroke-width="1.4"/>
<circle cx="543.7" cy="1430.4" r="8.0" fill="#BEBEBE" stroke="#000" stroke-width="1.4"/>
<circle cx="420.8" cy="1463.6" r="8.0" fill="#BEBEBE" stroke="#000" stroke-width="1.4"/>
<circle cx="422.1" cy="1474.6" r="8.0" fill="#BEBEBE" stroke="#000" stroke-width="1.4"/>
<circle cx="449.0" cy="1459.1" r="8.0" fill="#BEBEBE" stroke="#000" stroke-width="1.4"/>
<circle cx="471.5" cy="1464.9" r="8.0" fill="#BEBEBE" stroke="#000" stroke-width="1.4"/>
<circle cx="570.3" cy="1468.9" r="8.0" fill="#BEBEBE" stroke="#000" stroke-width="1.4"/>
<circle cx="557.8" cy="1481.6" r="8.0" fill="#BEBEBE" stroke="#000" stroke-width="1.4"/>
<circle cx="555.6" cy="1517.4" r="8.0" fill="#BEBEBE" stroke="#000" stroke-width="1.4"/>
<circle cx="602.3" cy="1416.4" r="8.0" fill="#BEBEBE" stroke="#000" stroke-width="1.4"/>
<circle cx="597.9" cy="1421.6" r="8.0" fill="#BEBEBE" stroke="#000" stroke-width="1.4"/>
<circle cx="603.0" cy="1423.6" r="8.0" fill="#BEBEBE" stroke="#000" stroke-width="1.4"/>
<circle cx="612.0" cy="1434.7" r="8.0" fill="#BEBEBE" stroke="#000" stroke-width="1.4"/>
<circle cx="635.0" cy="1430.0" r="8.0" fill="#BEBEBE" stroke="#000" stroke-width="1.4"/>
<circle cx="634.9" cy="1478.9" r="8.0" fill="#BEBEBE" stroke="#000" stroke-width="1.4"/>
<circle cx="707.9" cy="1482.3" r="8.0" fill="#BEBEBE" stroke="#000" stroke-width="1.4"/>
<circle cx="725.2" cy="1487.3" r="8.0" fill="#BEBEBE" stroke="#000" stroke-width="1.4"/>
<circle cx="763.2" cy="1486.7" r="8.0" fill="#BEBEBE" stroke="#000" stroke-width="1.4"/>
<circle cx="780.6" cy="1450.7" r="8.0" fill="#BEBEBE" stroke="#000" stroke-width="1.4"/>
<circle cx="852.9" cy="1521.0" r="8.0" fill="#BEBEBE" stroke="#000" stroke-width="1.4"/>
<circle cx="889.8" cy="1495.4" r="8.0" fill="#BEBEBE" stroke="#000" stroke-width="1.4"/>
<circle cx="991.9" cy="1485.9" r="8.0" fill="#BEBEBE" stroke="#000" stroke-width="1.4"/>
<circle cx="943.0" cy="1552.5" r="8.0" fill="#BEBEBE" stroke="#000" stroke-width="1.4"/>
<polyline points="168.2,1167.9 173.3,1177.5 178.5,1187.2 183.6,1196.9 188.7,1206.5 193.8,1216.1 199.0,1225.5 204.1,1234.6 209.2,1243.5 214.4,1252.0 219.5,1260.1 224.6,1267.7 229.8,1274.9 234.9,1281.7 240.0,1288.2 245.1,1294.4 250.3,1300.4 255.4,1306.0 260.5,1311.5 265.7,1316.6 270.8,1321.6 275.9,1326.3 281.1,1330.9 286.2,1335.2 291.3,1339.4 296.4,1343.4 301.6,1347.2 306.7,1350.8 311.8,1354.3 317.0,1357.7 322.1,1360.9 327.2,1364.1 332.3,1367.1 337.5,1370.0 342.6,1372.9 347.7,1375.6 352.9,1378.3 358.0,1380.9 363.1,1383.5 368.3,1386.0 373.4,1388.5 378.5,1390.9 383.6,1393.3 388.8,1395.6 393.9,1397.9 399.0,1400.2 404.2,1402.3 409.3,1404.5 414.4,1406.6 419.5,1408.7 424.7,1410.7 429.8,1412.7 434.9,1414.7 440.1,1416.6 445.2,1418.5 450.3,1420.4 455.5,1422.2 460.6,1424.0 465.7,1425.8 470.8,1427.5 476.0,1429.3 481.1,1430.9 486.2,1432.6 491.4,1434.2 496.5,1435.9 501.6,1437.4 506.8,1439.0 511.9,1440.5 517.0,1442.0 522.1,1443.5 527.3,1444.9 532.4,1446.4 537.5,1447.7 542.7,1449.1 547.8,1450.5 552.9,1451.8 558.0,1453.1 563.2,1454.4 568.3,1455.6 573.4,1456.8 578.6,1458.0 583.7,1459.2 588.8,1460.4 594.0,1461.5 599.1,1462.6 604.2,1463.7 609.3,1464.8 614.5,1465.8 619.6,1466.8 624.7,1467.8 629.9,1468.8 635.0,1469.8 640.1,1470.7 645.2,1471.6 650.4,1472.5 655.5,1473.4 660.6,1474.3 665.8,1475.1 670.9,1475.9 676.0,1476.7 681.2,1477.5 686.3,1478.3 691.4,1479.0 696.5,1479.8 701.7,1480.5 706.8,1481.2 711.9,1481.9 717.1,1482.5 722.2,1483.2 727.3,1483.8 732.5,1484.4 737.6,1485.0 742.7,1485.6 747.8,1486.2 753.0,1486.7 758.1,1487.3 763.2,1487.8 768.4,1488.3 773.5,1488.8 778.6,1489.3 783.7,1489.8 788.9,1490.2 794.0,1490.7 799.1,1491.1 804.3,1491.5 809.4,1491.9 814.5,1492.3 819.7,1492.7 824.8,1493.1 829.9,1493.5 835.0,1493.8 840.2,1494.2 845.3,1494.5 850.4,1494.8 855.6,1495.2 860.7,1495.5 865.8,1495.8 870.9,1496.1 876.1,1496.3 881.2,1496.6 886.3,1496.9 891.5,1497.1 896.6,1497.4 901.7,1497.6 906.9,1497.9 912.0,1498.1 917.1,1498.3 922.2,1498.5 927.4,1498.7 932.5,1498.9 937.6,1499.1 942.8,1499.3 947.9,1499.5 953.0,1499.7 958.2,1499.9 963.3,1500.1 968.4,1500.2 973.5,1500.4 978.7,1500.6 983.8,1500.7" fill="none" stroke="#BEBEBE" stroke-width="4.2" stroke-linejoin="round"/>
<polyline points="168.2,1073.7 173.3,1090.3 178.5,1106.6 183.6,1122.4 188.7,1137.8 193.8,1152.8 199.0,1167.4 204.1,1181.5 209.2,1195.1 214.4,1208.2 219.5,1220.8 224.6,1232.8 229.8,1244.1 234.9,1254.9 240.0,1264.9 245.1,1274.3 250.3,1283.0 255.4,1291.2 260.5,1298.7 265.7,1305.8 270.8,1312.3 275.9,1318.3 281.1,1324.0 286.2,1329.2 291.3,1334.0 296.4,1338.5 301.6,1342.7 306.7,1346.6 311.8,1350.2 317.0,1353.5 322.1,1356.7 327.2,1359.6 332.3,1362.4 337.5,1365.0 342.6,1367.6 347.7,1370.0 352.9,1372.4 358.0,1374.8 363.1,1377.1 368.3,1379.4 373.4,1381.7 378.5,1383.9 383.6,1386.2 388.8,1388.4 393.9,1390.6 399.0,1392.7 404.2,1394.8 409.3,1396.9 414.4,1399.0 419.5,1401.1 424.7,1403.1 429.8,1405.1 434.9,1407.1 440.1,1409.0 445.2,1410.9 450.3,1412.8 455.5,1414.7 460.6,1416.6 465.7,1418.4 470.8,1420.2 476.0,1422.0 481.1,1423.8 486.2,1425.5 491.4,1427.2 496.5,1428.9 501.6,1430.6 506.8,1432.2 511.9,1433.8 517.0,1435.4 522.1,1437.0 527.3,1438.5 532.4,1440.0 537.5,1441.5 542.7,1443.0 547.8,1444.5 552.9,1445.9 558.0,1447.3 563.2,1448.7 568.3,1450.1 573.4,1451.4 578.6,1452.8 583.7,1454.1 588.8,1455.3 594.0,1456.6 599.1,1457.8 604.2,1459.1 609.3,1460.3 614.5,1461.4 619.6,1462.6 624.7,1463.7 629.9,1464.8 635.0,1465.9 640.1,1467.0 645.2,1468.0 650.4,1469.1 655.5,1470.1 660.6,1471.1 665.8,1472.0 670.9,1473.0 676.0,1473.9 681.2,1474.8 686.3,1475.7 691.4,1476.6 696.5,1477.4 701.7,1478.3 706.8,1479.1 711.9,1479.9 717.1,1480.7 722.2,1481.4 727.3,1482.2 732.5,1483.0 737.6,1483.7 742.7,1484.4 747.8,1485.1 753.0,1485.8 758.1,1486.5 763.2,1487.2 768.4,1487.9 773.5,1488.5 778.6,1489.2 783.7,1489.8 788.9,1490.5 794.0,1491.1 799.1,1491.7 804.3,1492.3 809.4,1493.0 814.5,1493.6 819.7,1494.2 824.8,1494.8 829.9,1495.4 835.0,1496.0 840.2,1496.6 845.3,1497.2 850.4,1497.9 855.6,1498.5 860.7,1499.1 865.8,1499.7 870.9,1500.3 876.1,1501.0 881.2,1501.6 886.3,1502.2 891.5,1502.9 896.6,1503.5 901.7,1504.2 906.9,1504.8 912.0,1505.5 917.1,1506.2 922.2,1506.9 927.4,1507.6 932.5,1508.3 937.6,1509.0 942.8,1509.8 947.9,1510.5 953.0,1511.3 958.2,1512.1 963.3,1512.9 968.4,1513.7 973.5,1514.5 978.7,1515.4 983.8,1516.2" fill="none" stroke="#38598F" stroke-width="4.2" stroke-linejoin="round"/>
<text x="890.40" y="953.40" font-size="32.5" font-weight="normal" fill="#000" letter-spacing="-0.250">p = 0.846</text>
<line x1="1098.5" y1="1246.6" x2="1124" y2="1246.6" stroke="#BEBEBE" stroke-width="4.2"/>
<circle cx="1111" cy="1246.6" r="8.3" fill="#BEBEBE" stroke="#000" stroke-width="1.4"/>
<line x1="1098.5" y1="1279" x2="1124" y2="1279" stroke="#38598F" stroke-width="4.2"/>
<circle cx="1111" cy="1279" r="8.3" fill="#38598F" stroke="#000" stroke-width="1.4"/>
<text x="1137.20" y="1256.60" font-size="25.5" font-weight="normal" fill="#000" letter-spacing="-0.143">Baseline</text>
<text x="1137.60" y="1288.60" font-size="25.5" font-weight="normal" fill="#000" letter-spacing="0.000">AVT</text>
<line x1="220.23" y1="1738.80" x2="220.23" y2="2414.60" stroke="#EFEFEF" stroke-width="1.3"/>
<line x1="396.69" y1="1738.80" x2="396.69" y2="2414.60" stroke="#EFEFEF" stroke-width="1.3"/>
<line x1="573.15" y1="1738.80" x2="573.15" y2="2414.60" stroke="#EFEFEF" stroke-width="1.3"/>
<line x1="749.61" y1="1738.80" x2="749.61" y2="2414.60" stroke="#EFEFEF" stroke-width="1.3"/>
<line x1="926.07" y1="1738.80" x2="926.07" y2="2414.60" stroke="#EFEFEF" stroke-width="1.3"/>
<line x1="132.00" y1="2353.16" x2="1014.30" y2="2353.16" stroke="#EFEFEF" stroke-width="1.3"/>
<line x1="132.00" y1="2230.29" x2="1014.30" y2="2230.29" stroke="#EFEFEF" stroke-width="1.3"/>
<line x1="132.00" y1="2107.41" x2="1014.30" y2="2107.41" stroke="#EFEFEF" stroke-width="1.3"/>
<line x1="132.00" y1="1984.54" x2="1014.30" y2="1984.54" stroke="#EFEFEF" stroke-width="1.3"/>
<line x1="132.00" y1="1861.66" x2="1014.30" y2="1861.66" stroke="#EFEFEF" stroke-width="1.3"/>
<line x1="132.00" y1="1738.79" x2="1014.30" y2="1738.79" stroke="#EFEFEF" stroke-width="1.3"/>
<line x1="132.00" y1="1738.80" x2="132.00" y2="2414.60" stroke="#E5E5E5" stroke-width="1.8"/>
<line x1="308.46" y1="1738.80" x2="308.46" y2="2414.60" stroke="#E5E5E5" stroke-width="1.8"/>
<line x1="484.92" y1="1738.80" x2="484.92" y2="2414.60" stroke="#E5E5E5" stroke-width="1.8"/>
<line x1="661.38" y1="1738.80" x2="661.38" y2="2414.60" stroke="#E5E5E5" stroke-width="1.8"/>
<line x1="837.84" y1="1738.80" x2="837.84" y2="2414.60" stroke="#E5E5E5" stroke-width="1.8"/>
<line x1="1014.30" y1="1738.80" x2="1014.30" y2="2414.60" stroke="#E5E5E5" stroke-width="1.8"/>
<line x1="132.00" y1="2414.60" x2="1014.30" y2="2414.60" stroke="#E5E5E5" stroke-width="1.8"/>
<line x1="132.00" y1="2291.72" x2="1014.30" y2="2291.72" stroke="#E5E5E5" stroke-width="1.8"/>
<line x1="132.00" y1="2168.85" x2="1014.30" y2="2168.85" stroke="#E5E5E5" stroke-width="1.8"/>
<line x1="132.00" y1="2045.97" x2="1014.30" y2="2045.97" stroke="#E5E5E5" stroke-width="1.8"/>
<line x1="132.00" y1="1923.10" x2="1014.30" y2="1923.10" stroke="#E5E5E5" stroke-width="1.8"/>
<line x1="132.00" y1="1800.22" x2="1014.30" y2="1800.22" stroke="#E5E5E5" stroke-width="1.8"/>
<text x="19.00" y="1761.80" font-size="42.5" font-weight="bold" fill="#000" letter-spacing="0.000">C</text>
<text x="132.00" y="2445.00" font-size="26.5" text-anchor="middle" fill="#2E2E2E" font-weight="normal" letter-spacing="-0.500">0</text>
<text x="308.46" y="2445.00" font-size="26.5" text-anchor="middle" fill="#2E2E2E" font-weight="normal" letter-spacing="-0.500">10</text>
<text x="484.92" y="2445.00" font-size="26.5" text-anchor="middle" fill="#2E2E2E" font-weight="normal" letter-spacing="-0.500">20</text>
<text x="661.38" y="2445.00" font-size="26.5" text-anchor="middle" fill="#2E2E2E" font-weight="normal" letter-spacing="-0.500">30</text>
<text x="837.84" y="2445.00" font-size="26.5" text-anchor="middle" fill="#2E2E2E" font-weight="normal" letter-spacing="-0.500">40</text>
<text x="1014.30" y="2445.00" font-size="26.5" text-anchor="middle" fill="#2E2E2E" font-weight="normal" letter-spacing="-0.500">50</text>
<text x="121.30" y="2425.50" font-size="26.5" text-anchor="end" fill="#2E2E2E" font-weight="normal" letter-spacing="-0.400">0.0</text>
<text x="121.30" y="2302.62" font-size="26.5" text-anchor="end" fill="#2E2E2E" font-weight="normal" letter-spacing="-0.400">0.5</text>
<text x="121.30" y="2179.75" font-size="26.5" text-anchor="end" fill="#2E2E2E" font-weight="normal" letter-spacing="-0.400">1.0</text>
<text x="121.30" y="2056.88" font-size="26.5" text-anchor="end" fill="#2E2E2E" font-weight="normal" letter-spacing="-0.400">1.5</text>
<text x="121.30" y="1934.00" font-size="26.5" text-anchor="end" fill="#2E2E2E" font-weight="normal" letter-spacing="-0.400">2.0</text>
<text x="121.30" y="1811.12" font-size="26.5" text-anchor="end" fill="#2E2E2E" font-weight="normal" letter-spacing="-0.400">2.5</text>
<text x="460.20" y="2490.00" font-size="33.3" font-weight="normal" fill="#111" letter-spacing="-0.833">PVRi</text>
<text x="541.80" y="2489.50" font-size="33.3" font-weight="normal" fill="#111" letter-spacing="0.000">(</text>
<text x="552.80" y="2490.00" font-size="33.3" font-weight="normal" fill="#111" letter-spacing="-2.500">WU</text>
<text x="609.60" y="2490.00" font-size="33.3" font-weight="normal" fill="#111" letter-spacing="0.000">·</text>
<text x="636.20" y="2490.00" font-size="33.3" font-weight="normal" fill="#111" letter-spacing="0.000">m</text>
<text x="662.40" y="2471.60" font-size="21.2" font-weight="normal" fill="#111" letter-spacing="0.000">2</text>
<text x="676.20" y="2489.50" font-size="33.3" font-weight="normal" fill="#111" letter-spacing="0.000">)</text>
<text transform="translate(66.90,2224.00) rotate(-90)" font-size="33.5" font-weight="normal" fill="#111" letter-spacing="-0.782">PACi (ml/mmHg/ m<tspan dy="-17" font-size="23">2</tspan><tspan dy="17">)</tspan></text>
<circle cx="234.7" cy="1798.8" r="12.10" fill="#21918c" fill-opacity="0.7" stroke="#1A1A1A" stroke-width="1.3"/>
<circle cx="249.7" cy="1834.8" r="12.85" fill="#22a386" fill-opacity="0.7" stroke="#1A1A1A" stroke-width="1.3"/>
<circle cx="225.6" cy="1848.6" r="10.85" fill="#2c748e" fill-opacity="0.7" stroke="#1A1A1A" stroke-width="1.3"/>
<circle cx="226.1" cy="1844.4" r="10.85" fill="#2c748e" fill-opacity="0.7" stroke="#1A1A1A" stroke-width="1.3"/>
<circle cx="226.7" cy="1873.4" r="10.85" fill="#2c748e" fill-opacity="0.7" stroke="#1A1A1A" stroke-width="1.3"/>
<circle cx="248.8" cy="1918.4" r="11.50" fill="#26838d" fill-opacity="0.7" stroke="#1A1A1A" stroke-width="1.3"/>
<circle cx="248.3" cy="1970.1" r="10.65" fill="#2d708e" fill-opacity="0.7" stroke="#1A1A1A" stroke-width="1.3"/>
<circle cx="246.4" cy="1990.1" r="10.30" fill="#31698d" fill-opacity="0.7" stroke="#1A1A1A" stroke-width="1.3"/>
<circle cx="206.8" cy="2017.8" r="7.25" fill="#45307c" fill-opacity="0.7" stroke="#1A1A1A" stroke-width="1.3"/>
<circle cx="249.6" cy="2040.4" r="9.60" fill="#375b8c" fill-opacity="0.7" stroke="#1A1A1A" stroke-width="1.3"/>
<circle cx="305.9" cy="2037.8" r="12.10" fill="#21918c" fill-opacity="0.7" stroke="#1A1A1A" stroke-width="1.3"/>
<circle cx="333.3" cy="2030.4" r="13.70" fill="#3bb976" fill-opacity="0.7" stroke="#1A1A1A" stroke-width="1.3"/>
<circle cx="331.7" cy="2065.3" r="12.70" fill="#229f87" fill-opacity="0.7" stroke="#1A1A1A" stroke-width="1.3"/>
<circle cx="230.7" cy="2106.8" r="7.45" fill="#45337e" fill-opacity="0.7" stroke="#1A1A1A" stroke-width="1.3"/>
<circle cx="285.0" cy="2109.3" r="10.20" fill="#32678d" fill-opacity="0.7" stroke="#1A1A1A" stroke-width="1.3"/>
<circle cx="356.5" cy="2111.0" r="12.50" fill="#219b89" fill-opacity="0.7" stroke="#1A1A1A" stroke-width="1.3"/>
<circle cx="240.1" cy="2123.5" r="7.60" fill="#44367f" fill-opacity="0.7" stroke="#1A1A1A" stroke-width="1.3"/>
<circle cx="310.1" cy="2127.4" r="10.80" fill="#2c738e" fill-opacity="0.7" stroke="#1A1A1A" stroke-width="1.3"/>
<circle cx="230.7" cy="2136.6" r="6.90" fill="#472a79" fill-opacity="0.7" stroke="#1A1A1A" stroke-width="1.3"/>
<circle cx="270.2" cy="2146.1" r="8.65" fill="#3f4988" fill-opacity="0.7" stroke="#1A1A1A" stroke-width="1.3"/>
<circle cx="243.1" cy="2164.5" r="6.75" fill="#472877" fill-opacity="0.7" stroke="#1A1A1A" stroke-width="1.3"/>
<circle cx="269.4" cy="2172.0" r="7.75" fill="#443981" fill-opacity="0.7" stroke="#1A1A1A" stroke-width="1.3"/>
<circle cx="362.3" cy="2159.0" r="11.35" fill="#27808d" fill-opacity="0.7" stroke="#1A1A1A" stroke-width="1.3"/>
<circle cx="343.0" cy="2167.3" r="10.35" fill="#306a8d" fill-opacity="0.7" stroke="#1A1A1A" stroke-width="1.3"/>
<circle cx="356.6" cy="2185.1" r="10.45" fill="#2f6c8e" fill-opacity="0.7" stroke="#1A1A1A" stroke-width="1.3"/>
<circle cx="213.1" cy="2189.9" r="2.40" fill="#440154" fill-opacity="0.7" stroke="#1A1A1A" stroke-width="1.3"/>
<circle cx="310.1" cy="2200.0" r="8.45" fill="#404687" fill-opacity="0.7" stroke="#1A1A1A" stroke-width="1.3"/>
<circle cx="316.7" cy="2207.9" r="8.30" fill="#414386" fill-opacity="0.7" stroke="#1A1A1A" stroke-width="1.3"/>
<circle cx="327.1" cy="2222.8" r="8.30" fill="#414386" fill-opacity="0.7" stroke="#1A1A1A" stroke-width="1.3"/>
<circle cx="427.6" cy="2167.5" r="12.85" fill="#22a386" fill-opacity="0.7" stroke="#1A1A1A" stroke-width="1.3"/>
<circle cx="470.9" cy="2198.2" r="12.60" fill="#229d88" fill-opacity="0.7" stroke="#1A1A1A" stroke-width="1.3"/>
<circle cx="476.8" cy="2188.7" r="13.75" fill="#3cba74" fill-opacity="0.7" stroke="#1A1A1A" stroke-width="1.3"/>
<circle cx="502.5" cy="2218.0" r="12.35" fill="#21978a" fill-opacity="0.7" stroke="#1A1A1A" stroke-width="1.3"/>
<circle cx="505.6" cy="2211.5" r="13.15" fill="#26aa82" fill-opacity="0.7" stroke="#1A1A1A" stroke-width="1.3"/>
<circle cx="492.3" cy="2226.0" r="12.40" fill="#219889" fill-opacity="0.7" stroke="#1A1A1A" stroke-width="1.3"/>
<circle cx="533.7" cy="2212.5" r="13.95" fill="#45bf70" fill-opacity="0.7" stroke="#1A1A1A" stroke-width="1.3"/>
<circle cx="414.0" cy="2257.9" r="9.35" fill="#39568b" fill-opacity="0.7" stroke="#1A1A1A" stroke-width="1.3"/>
<circle cx="415.2" cy="2273.0" r="8.85" fill="#3d4d89" fill-opacity="0.7" stroke="#1A1A1A" stroke-width="1.3"/>
<circle cx="441.4" cy="2251.7" r="10.35" fill="#306a8d" fill-opacity="0.7" stroke="#1A1A1A" stroke-width="1.3"/>
<circle cx="463.4" cy="2259.7" r="10.60" fill="#2e6f8e" fill-opacity="0.7" stroke="#1A1A1A" stroke-width="1.3"/>
<circle cx="559.7" cy="2265.2" r="11.85" fill="#238b8c" fill-opacity="0.7" stroke="#1A1A1A" stroke-width="1.3"/>
<circle cx="547.4" cy="2282.5" r="10.85" fill="#2c748e" fill-opacity="0.7" stroke="#1A1A1A" stroke-width="1.3"/>
<circle cx="526.0" cy="2329.6" r="7.60" fill="#44367f" fill-opacity="0.7" stroke="#1A1A1A" stroke-width="1.3"/>
<circle cx="545.3" cy="2331.4" r="7.85" fill="#433a82" fill-opacity="0.7" stroke="#1A1A1A" stroke-width="1.3"/>
<circle cx="590.8" cy="2193.4" r="15.40" fill="#b0dc2e" fill-opacity="0.7" stroke="#1A1A1A" stroke-width="1.3"/>
<circle cx="586.5" cy="2200.4" r="15.10" fill="#96d73f" fill-opacity="0.7" stroke="#1A1A1A" stroke-width="1.3"/>
<circle cx="591.4" cy="2203.1" r="15.10" fill="#96d73f" fill-opacity="0.7" stroke="#1A1A1A" stroke-width="1.3"/>
<circle cx="600.3" cy="2218.4" r="14.75" fill="#79d152" fill-opacity="0.7" stroke="#1A1A1A" stroke-width="1.3"/>
<circle cx="622.7" cy="2212.0" r="15.40" fill="#b0dc2e" fill-opacity="0.7" stroke="#1A1A1A" stroke-width="1.3"/>
<circle cx="622.6" cy="2278.9" r="12.35" fill="#21978a" fill-opacity="0.7" stroke="#1A1A1A" stroke-width="1.3"/>
<circle cx="693.7" cy="2283.5" r="13.05" fill="#22a884" fill-opacity="0.7" stroke="#1A1A1A" stroke-width="1.3"/>
<circle cx="710.6" cy="2290.3" r="12.75" fill="#22a187" fill-opacity="0.7" stroke="#1A1A1A" stroke-width="1.3"/>
<circle cx="747.6" cy="2289.5" r="13.15" fill="#26aa82" fill-opacity="0.7" stroke="#1A1A1A" stroke-width="1.3"/>
<circle cx="764.6" cy="2240.3" r="16.10" fill="#ede525" fill-opacity="0.7" stroke="#1A1A1A" stroke-width="1.3"/>
<circle cx="835.0" cy="2336.5" r="11.30" fill="#287e8d" fill-opacity="0.7" stroke="#1A1A1A" stroke-width="1.3"/>
<circle cx="870.9" cy="2301.4" r="14.35" fill="#5ec861" fill-opacity="0.7" stroke="#1A1A1A" stroke-width="1.3"/>
<circle cx="970.4" cy="2288.4" r="15.85" fill="#d7e226" fill-opacity="0.7" stroke="#1A1A1A" stroke-width="1.3"/>
<circle cx="922.8" cy="2379.4" r="7.00" fill="#462c79" fill-opacity="0.7" stroke="#1A1A1A" stroke-width="1.3"/>
<text x="1102.00" y="1994.90" font-size="31" font-weight="normal" fill="#000" letter-spacing="0.400">RC-time (s)</text>
<circle cx="1123" cy="2025.2" r="8.35" fill="#414487" fill-opacity="0.7" stroke="#1A1A1A" stroke-width="1.3"/>
<text x="1154.60" y="2035.80" font-size="26" text-anchor="start" fill="#000" font-weight="normal" letter-spacing="-0.500">0.50</text>
<circle cx="1123" cy="2057.5" r="11.05" fill="#2b768e" fill-opacity="0.7" stroke="#1A1A1A" stroke-width="1.3"/>
<text x="1154.60" y="2068.10" font-size="26" text-anchor="start" fill="#000" font-weight="normal" letter-spacing="-0.500">0.75</text>
<circle cx="1123" cy="2090.2" r="12.90" fill="#22a386" fill-opacity="0.7" stroke="#1A1A1A" stroke-width="1.3"/>
<text x="1154.60" y="2100.80" font-size="26" text-anchor="start" fill="#000" font-weight="normal" letter-spacing="-0.500">1.00</text>
<circle cx="1123" cy="2126.1" r="14.85" fill="#6acc5a" fill-opacity="0.7" stroke="#1A1A1A" stroke-width="1.3"/>
<text x="1154.60" y="2136.70" font-size="26" text-anchor="start" fill="#000" font-weight="normal" letter-spacing="-0.500">1.25</text>
<circle cx="1123" cy="2166.0" r="16.00" fill="#e3e425" fill-opacity="0.7" stroke="#1A1A1A" stroke-width="1.3"/>
<text x="1154.60" y="2176.60" font-size="26" text-anchor="start" fill="#000" font-weight="normal" letter-spacing="-0.500">1.50</text>
</svg></body></html>
